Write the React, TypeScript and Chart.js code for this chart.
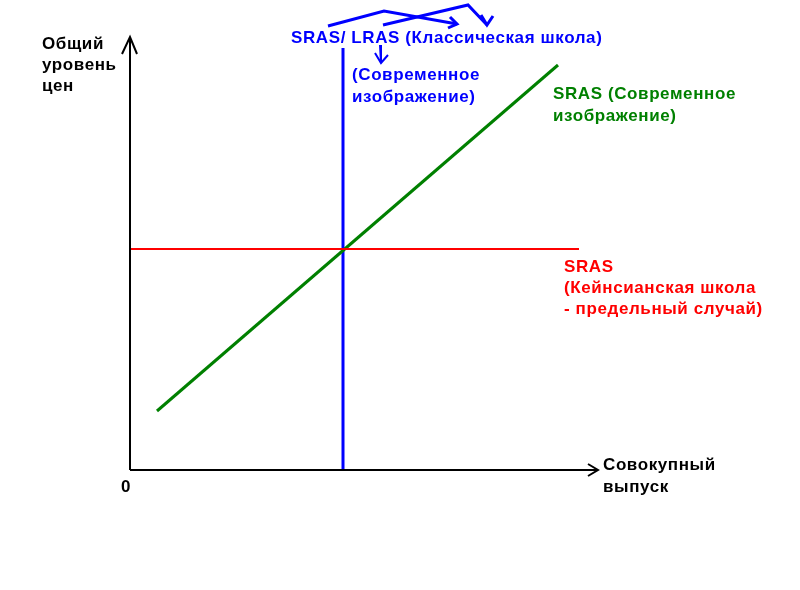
import React, { useEffect, useRef } from "react";
import { Chart, registerables, ChartConfiguration, Plugin } from "chart.js";

Chart.register(...registerables);

type Pt = { x: number; y: number };

// economic curves (units: output on x, price level on y)
const yAxisLine: Pt[] = [
  { x: 0, y: 0 },
  { x: 0, y: 8.66 },
];
const yAxisHead: Pt[] = [
  { x: -0.16, y: 8.32 },
  { x: 0, y: 8.66 },
  { x: 0.14, y: 8.32 },
];
const xAxisLine: Pt[] = [
  { x: 0, y: 0 },
  { x: 9.36, y: 0 },
];
const xAxisHead: Pt[] = [
  { x: 9.16, y: 0.12 },
  { x: 9.36, y: 0 },
  { x: 9.16, y: -0.12 },
];
const lrasLine: Pt[] = [
  { x: 4.26, y: 0 },
  { x: 4.26, y: 8.44 },
];
const keynesLine: Pt[] = [
  { x: 0, y: 4.42 },
  { x: 8.98, y: 4.42 },
];
const modernLine: Pt[] = [
  { x: 0.54, y: 1.18 },
  { x: 8.56, y: 8.1 },
];

// hand-drawn pointer arrows near the title
const pointerA: Pt[] = [
  { x: 3.96, y: 8.88 },
  { x: 5.08, y: 9.18 },
  { x: 6.54, y: 8.92 },
];
const pointerAHead: Pt[] = [
  { x: 6.4, y: 9.06 },
  { x: 6.54, y: 8.92 },
  { x: 6.36, y: 8.84 },
];
const pointerB: Pt[] = [
  { x: 5.06, y: 8.9 },
  { x: 6.76, y: 9.3 },
  { x: 7.14, y: 8.9 },
];
const pointerBHead: Pt[] = [
  { x: 7.02, y: 9.1 },
  { x: 7.14, y: 8.9 },
  { x: 7.26, y: 9.08 },
];
const pointerC: Pt[] = [
  { x: 5.0, y: 8.5 },
  { x: 5.02, y: 8.14 },
];
const pointerCHead: Pt[] = [
  { x: 4.9, y: 8.34 },
  { x: 5.02, y: 8.14 },
  { x: 5.16, y: 8.3 },
];

// label texts
const yTitle = ["Общий", "уровень", "цен"];
const xTitle = ["Совокупный", "выпуск"];
const originLabel = ["0"];
const classicLabel = ["SRAS/ LRAS (Классическая школа)"];
const classicModernLabel = ["(Современное", "изображение)"];
const modernLabel = ["SRAS (Современное", "изображение)"];
const keynesLabel = ["SRAS", "(Кейнсианская школа", "- предельный случай)"];

const BLUE = "#0000ff";
const GREEN = "#008000";
const RED = "#ff0000";
const BLACK = "#000000";

type Label = { lines: string[]; x: number; y: number; color: string; lh: number };

const labels: Label[] = [
  { lines: yTitle, x: -1.76, y: 8.42, color: BLACK, lh: 21 },
  { lines: xTitle, x: 9.46, y: 0.0, color: BLACK, lh: 22 },
  { lines: originLabel, x: -0.18, y: -0.44, color: BLACK, lh: 22 },
  { lines: classicLabel, x: 3.22, y: 8.54, color: BLUE, lh: 22 },
  { lines: classicModernLabel, x: 4.44, y: 7.8, color: BLUE, lh: 22 },
  { lines: modernLabel, x: 8.46, y: 7.42, color: GREEN, lh: 22 },
  { lines: keynesLabel, x: 8.68, y: 3.96, color: RED, lh: 21 },
];

const textPlugin: Plugin<"scatter"> = {
  id: "textLabels",
  afterDatasetsDraw(chart) {
    const { ctx, scales } = chart;
    ctx.save();
    ctx.font = "bold 17px 'Liberation Sans', Arial, sans-serif";
    (ctx as any).letterSpacing = "0.6px";
    ctx.textBaseline = "alphabetic";
    ctx.textAlign = "left";
    labels.forEach((l) => {
      const px = scales.x.getPixelForValue(l.x);
      const py = scales.y.getPixelForValue(l.y);
      ctx.fillStyle = l.color;
      l.lines.forEach((t, i) => ctx.fillText(t, px, py + i * l.lh));
    });
    ctx.restore();
  },
};

const seg = (data: Pt[], color: string, width: number) => ({
  data,
  borderColor: color,
  backgroundColor: color,
  borderWidth: width,
  showLine: true,
  pointRadius: 0,
  pointHoverRadius: 0,
  fill: false,
  tension: 0,
});

const App = () => {
  const chartRef = useRef<HTMLCanvasElement | null>(null);
  const chartInstanceRef = useRef<Chart<"scatter", Pt[]> | null>(null);

  useEffect(() => {
    const ctx = chartRef.current?.getContext("2d");
    if (chartInstanceRef.current) {
      chartInstanceRef.current.destroy();
    }
    if (ctx) {
      const config: ChartConfiguration<"scatter", Pt[]> = {
        type: "scatter",
        data: {
          datasets: [
            seg(yAxisLine, BLACK, 2),
            seg(yAxisHead, BLACK, 2),
            seg(xAxisLine, BLACK, 2),
            seg(xAxisHead, BLACK, 2),
            seg(keynesLine, RED, 2),
            seg(modernLine, GREEN, 3),
            seg(lrasLine, BLUE, 3),
            seg(pointerA, BLUE, 3),
            seg(pointerAHead, BLUE, 3),
            seg(pointerB, BLUE, 3),
            seg(pointerBHead, BLUE, 3),
            seg(pointerC, BLUE, 2),
            seg(pointerCHead, BLUE, 2),
          ],
        },
        options: {
          responsive: false,
          animation: false,
          layout: { padding: 0 },
          scales: {
            x: { type: "linear", min: -2.6, max: 13.4, display: false },
            y: { type: "linear", min: -2.4, max: 9.4, display: false },
          },
          plugins: {
            legend: { display: false },
            tooltip: { enabled: false },
          },
          events: [],
        },
        plugins: [textPlugin],
      };
      chartInstanceRef.current = new Chart(ctx, config);
    }
    return () => {
      if (chartInstanceRef.current) {
        chartInstanceRef.current.destroy();
        chartInstanceRef.current = null;
      }
    };
  }, []);

  return (
    <div
      style={{
        position: "fixed",
        left: 0,
        top: 0,
        width: 800,
        height: 590,
        background: "#ffffff",
      }}
    >
      <canvas ref={chartRef} width={800} height={590} />
    </div>
  );
};

export default App;
